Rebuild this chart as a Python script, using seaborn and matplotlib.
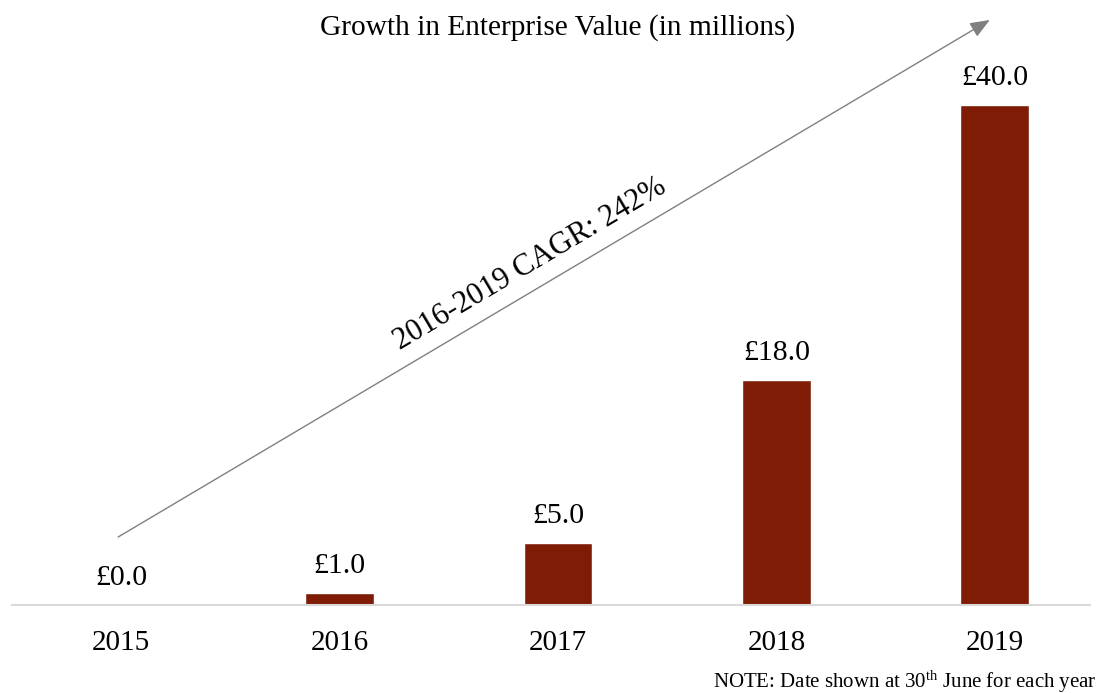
import matplotlib
matplotlib.use("Agg")
import matplotlib.pyplot as plt
import seaborn as sns
import pandas as pd

years = ["2015", "2016", "2017", "2018", "2019"]
values = [0.0, 1.0, 5.0, 18.0, 40.0]
bar_color = "#7F1C06"
title = "Growth in Enterprise Value (in millions)"
cagr_label = "2016-2019 CAGR: 242%"
note = r"NOTE: Date shown at 30$^{\mathrm{th}}$ June for each year"

sns.set_theme(style="white")
plt.rcParams["font.family"] = ["Liberation Serif", "DejaVu Serif"]
plt.rcParams["mathtext.fontset"] = "custom"
plt.rcParams["mathtext.rm"] = "Liberation Serif"
plt.rcParams["mathtext.it"] = "Liberation Serif:italic"

df = pd.DataFrame({"year": years, "value": values})

fig = plt.figure(figsize=(10.99, 6.93), dpi=100)
ax = fig.add_axes([12 / 1099, 88 / 693, 1092 / 1099, 575 / 693])

sns.barplot(data=df, x="year", y="value", color=bar_color, saturation=1,
            width=0.315, ax=ax)

ax.set_xlim(-0.5, 4.5)
ax.set_ylim(0, 46)
ax.set_xlabel("")
ax.set_ylabel("")
ax.set_yticks([])
for side in ["left", "right", "top"]:
    ax.spines[side].set_visible(False)
ax.spines["bottom"].set_color("#D9D9D9")
ax.spines["bottom"].set_linewidth(1.5)
ax.spines["bottom"].set_bounds(-0.5, 4.435)
ax.tick_params(axis="x", length=0, pad=18, labelsize=21, labelcolor="black")

labels = [f"\u00a3{v:.1f}" for v in values]
ax.bar_label(ax.containers[0], labels=labels, padding=10, fontsize=21.5,
             color="black")

# Trend arrow spanning the bars
ax.annotate("", xy=(3.977, 46.8), xytext=(-0.014, 5.44),
            xycoords="data", textcoords="data", annotation_clip=False,
            arrowprops=dict(arrowstyle="-|>,head_length=1.0,head_width=0.4",
                            color="#808080", lw=1.0, shrinkA=0, shrinkB=0))
ax.text(1.87, 27.3, cagr_label, rotation=30.7, rotation_mode="anchor",
        ha="center", va="center", fontsize=22, color="black")

fig.text(558 / 1099, 1 - 28 / 693, title, ha="center", va="center",
         fontsize=21.2, color="black")
fig.text(1097 / 1099, 1 - 682 / 693, note, ha="right", va="center",
         fontsize=15, color="black")

fig.savefig("out.png", dpi=100)
